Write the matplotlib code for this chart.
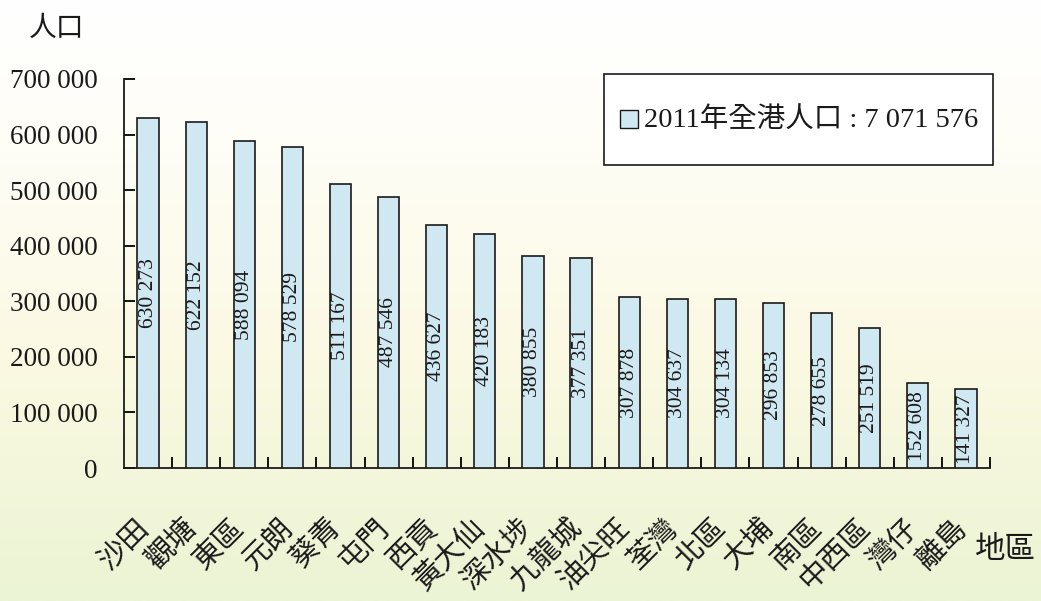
import matplotlib
matplotlib.use("Agg")
import matplotlib.pyplot as plt
import matplotlib.colors as mcolors
import matplotlib.patches as mpatches
import numpy as np

districts = ["沙田", "觀塘", "東區", "元朗", "葵青", "屯門", "西貢", "黃大仙", "深水埗",
             "九龍城", "油尖旺", "荃灣", "北區", "大埔", "南區", "中西區", "灣仔", "離島"]
population = [630273, 622152, 588094, 578529, 511167, 487546, 436627, 420183, 380855,
              377351, 307878, 304637, 304134, 296853, 278655, 251519, 152608, 141327]
yticks = [0, 100000, 200000, 300000, 400000, 500000, 600000, 700000]
legend_label = "2011年全港人口 : 7 071 576"

SERIF = ["Liberation Serif", "Noto Sans CJK TC", "DejaVu Sans"]
CJK = ["Noto Sans CJK TC", "DejaVu Sans"]
BAR_COLOR = "#cfe8f2"
INK = "#1a1a1a"


def fmt(v):
    return f"{v:,}".replace(",", " ")


fig = plt.figure(figsize=(10.41, 6.01), dpi=100)

# background gradient (white-cream top -> pale green bottom)
bg = fig.add_axes([0, 0, 1, 1], zorder=-10)
cmap = mcolors.LinearSegmentedColormap.from_list(
    "bg", [(0.0, "#ffffff"), (0.25, "#fefdf6"), (0.6, "#fbf9e2"), (1.0, "#ebf4d4")])
bg.imshow(np.linspace(0, 1, 256).reshape(-1, 1), aspect="auto", cmap=cmap,
          extent=[0, 1, 0, 1], origin="upper")
bg.set_axis_off()

ax = fig.add_axes([124 / 1041, 1 - 468 / 601, (990 - 124) / 1041, (468 - 79) / 601])
ax.set_facecolor("none")

x = np.arange(len(districts))
ax.bar(x, population, width=0.44, color=BAR_COLOR, edgecolor=INK, linewidth=1.2, zorder=3)

for xi, v in zip(x, population):
    ax.text(xi, v / 2, fmt(v), rotation=90, ha="center", va="center",
            fontsize=15.5, family=SERIF, color=INK, zorder=4)

ax.set_xlim(-0.5, len(districts) - 0.5)
ax.set_ylim(0, 700000)

for s in ["top", "right"]:
    ax.spines[s].set_visible(False)
for s in ["left", "bottom"]:
    ax.spines[s].set_linewidth(1.3)
    ax.spines[s].set_color(INK)

ax.set_yticks(yticks)
ax.set_yticklabels([fmt(v) for v in yticks], family=SERIF, fontsize=19.5, color=INK)
ax.tick_params(axis="y", direction="in", length=8, width=1.3, pad=19)

ax.set_xticks(x - 0.08)
ax.set_xticklabels(districts, rotation=45, ha="right", va="center",
                   rotation_mode="anchor", family=CJK, fontsize=21, color=INK)
ax.tick_params(axis="x", which="major", length=0, pad=40)
ax.set_xticks(np.arange(0.5, len(districts), 1.0), minor=True)
ax.tick_params(axis="x", which="minor", direction="in", length=8, width=1.3)

# legend box drawn by hand so its padding matches the original
box = mpatches.Rectangle((0.5543, 0.7789), 1.0035 - 0.5543, 1.0129 - 0.7789,
                         transform=ax.transAxes, facecolor="#ffffff", edgecolor=INK,
                         linewidth=1.2, clip_on=False, zorder=5)
ax.add_patch(box)
key = mpatches.Rectangle((0.5727, 0.874), 0.0208, 0.0463, transform=ax.transAxes,
                         facecolor=BAR_COLOR, edgecolor=INK, linewidth=1.0,
                         clip_on=False, zorder=6)
ax.add_patch(key)
ax.text(0.6005, 0.8946, legend_label, transform=ax.transAxes, ha="left", va="center",
        family=SERIF, fontsize=20.5, color=INK, zorder=6)

fig.text(57 / 1041, 1 - 28 / 601, "人口", family=CJK, fontsize=20,
         ha="center", va="center", color=INK)
fig.text(1005 / 1041, 1 - 549 / 601, "地區", family=CJK, fontsize=22,
         ha="center", va="center", color=INK)

fig.savefig("out.png", dpi=100)
